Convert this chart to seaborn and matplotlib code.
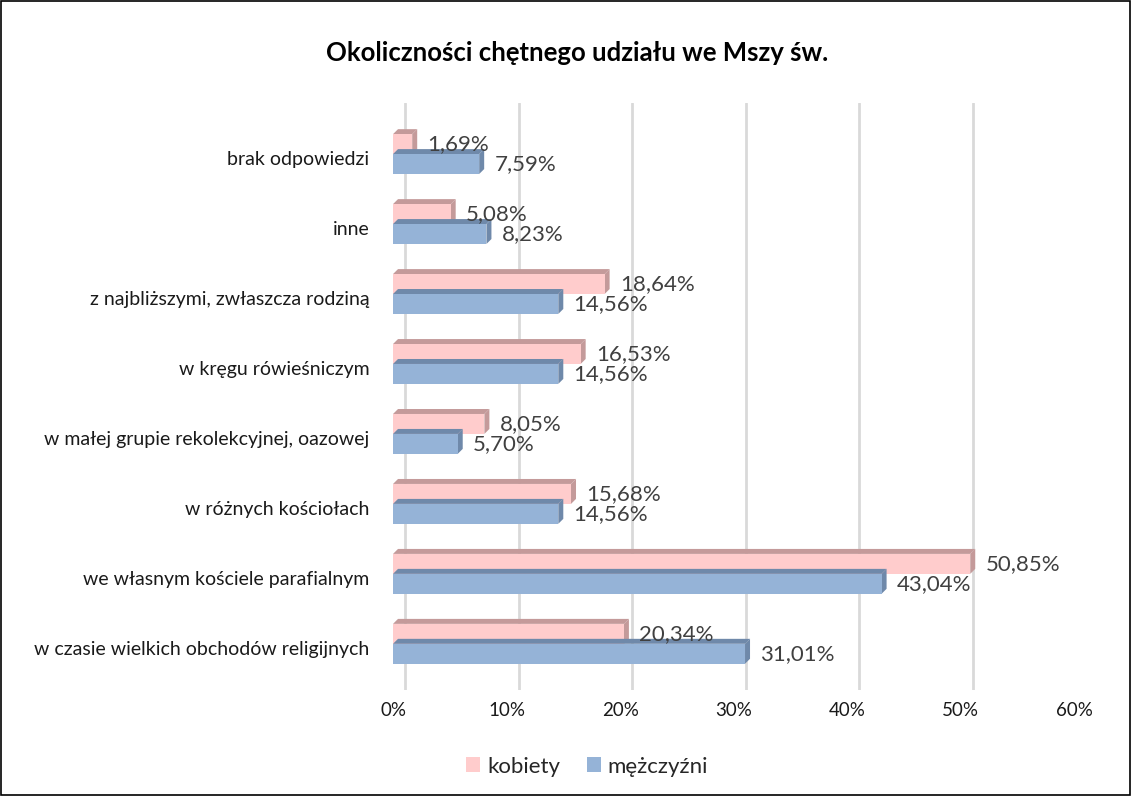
import numpy as np
import pandas as pd
import matplotlib
matplotlib.use("Agg")
import matplotlib.pyplot as plt
import matplotlib.transforms as mtransforms
from matplotlib.patches import Polygon, Rectangle
import seaborn as sns

categories = [
    "brak odpowiedzi",
    "inne",
    "z najbliższymi, zwłaszcza rodziną",
    "w kręgu rówieśniczym",
    "w małej grupie rekolekcyjnej, oazowej",
    "w różnych kościołach",
    "we własnym kościele parafialnym",
    "w czasie wielkich obchodów religijnych",
]
kobiety = [1.69, 5.08, 18.64, 16.53, 8.05, 15.68, 50.85, 20.34]
mezczyzni = [7.59, 8.23, 14.56, 14.56, 5.70, 14.56, 43.04, 31.01]
series = ["kobiety", "mężczyźni"]
x_ticks = [0, 10, 20, 30, 40, 50, 60]

front_colors = ["#FFCCCC", "#95B3D7"]
shade_colors = ["#C49A9A", "#6F89AA"]

df = pd.DataFrame({
    "kategoria": categories * 2,
    "wartosc": kobiety + mezczyzni,
    "plec": [series[0]] * len(categories) + [series[1]] * len(categories),
})

sns.set_style("white")
plt.rcParams["font.family"] = ["Lato", "DejaVu Sans"]

fig = plt.figure(figsize=(11.31, 7.96), dpi=100)
ax = fig.add_axes([0.3475, 0.1332, 0.6022, 0.7374])

sns.barplot(data=df, y="kategoria", x="wartosc", hue="plec", orient="h",
            palette=front_colors, saturation=1, width=0.57, ax=ax,
            hue_order=series, order=categories, errorbar=None,
            linewidth=0, edgecolor="none")

ax.set_xlim(0, 60)
ax.set_ylim(7.66, -0.73)
ax.set_xticks(x_ticks)
ax.set_xticklabels([f"{t}%" for t in x_ticks], fontsize=13.5, color="#1a1a1a")
ax.tick_params(axis="x", length=0, pad=9)
ax.tick_params(axis="y", length=0, pad=17, labelsize=14, labelcolor="#1a1a1a")
ax.set_xlabel("")
ax.set_ylabel("")
for s in ax.spines.values():
    s.set_visible(False)

# category labels sit a little lower than the group centre
down = mtransforms.ScaledTranslation(0, -0.04, fig.dpi_scale_trans)
for lab in ax.get_yticklabels():
    lab.set_transform(lab.get_transform() + down)

# back-wall gridlines, shifted a bit to the right like in the 3D chart
ax.set_axisbelow(True)
ax.grid(axis="x", color="#D9D9D9", linewidth=2)
ax.grid(axis="y", visible=False)
shift = mtransforms.ScaledTranslation(0.12, 0, fig.dpi_scale_trans)
for gl in ax.get_xgridlines():
    gl.set_transform(gl.get_transform() + shift)

# 3D depth faces
dx, dy = 0.44, 0.071
for k, cont in enumerate(ax.containers[::-1]):
    idx = len(ax.containers) - 1 - k
    z = 2 + idx * 2
    for p in cont.patches:
        x0, y0 = p.get_x(), p.get_y()
        w, h = p.get_width(), p.get_height()
        x1 = x0 + w
        top = Polygon([(x0, y0), (x1, y0), (x1 + dx, y0 - dy), (x0 + dx, y0 - dy)],
                      closed=True, facecolor=shade_colors[idx], edgecolor="none", zorder=z)
        side = Polygon([(x1, y0), (x1 + dx, y0 - dy), (x1 + dx, y0 + h - dy), (x1, y0 + h)],
                       closed=True, facecolor=shade_colors[idx], edgecolor="none", zorder=z)
        ax.add_patch(top)
        ax.add_patch(side)
        p.set_zorder(z + 1)
    vals = kobiety if idx == 0 else mezczyzni
    ax.bar_label(cont, labels=[f"{v:.2f}%".replace(".", ",") for v in vals],
                 padding=11, fontsize=16, color="#404040", zorder=10)

ax.legend_.remove()
handles = [Rectangle((0, 0), 1, 1, facecolor=c, edgecolor="none") for c in front_colors]
fig.legend(handles, series, loc="center", bbox_to_anchor=(0.519, 0.037), ncol=2,
           frameon=False, fontsize=16, handlelength=0.65, handleheight=0.65,
           handletextpad=0.3, columnspacing=1.2)

fig.text(0.510, 0.934, "Okoliczności chętnego udziału we Mszy św.", ha="center", va="center",
         fontsize=18.5, fontweight="bold", color="black")

fig.patches.append(Rectangle((0.0005, 0.0008), 0.999, 0.9985, transform=fig.transFigure,
                             fill=False, edgecolor="black", linewidth=1.2))

plt.savefig("out.png", dpi=100)
plt.close()
